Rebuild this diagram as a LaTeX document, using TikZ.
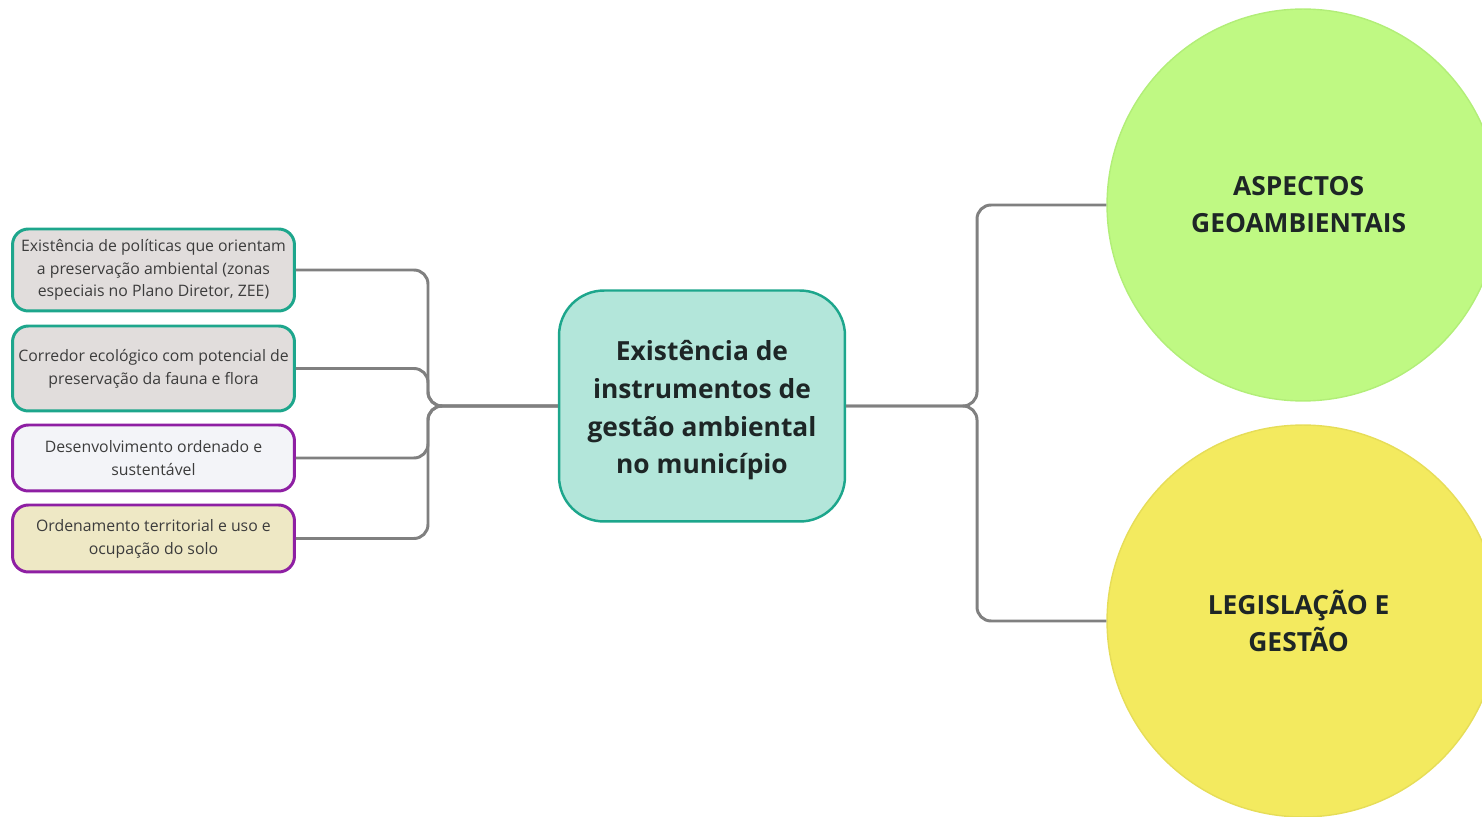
\documentclass[tikz,border=0pt]{standalone}
\usepackage{fontspec}
\setmainfont{Open Sans}
\usepackage{xcolor}
\usetikzlibrary{positioning}

\definecolor{tealline}{HTML}{1DA68C}
\definecolor{purpleline}{HTML}{8E1FA3}
\definecolor{grayfill}{HTML}{E1DDDC}
\definecolor{whitefill}{HTML}{F3F4F8}
\definecolor{creamfill}{HTML}{EEE8C5}
\definecolor{hubfill}{HTML}{B3E6DA}
\definecolor{geofill}{HTML}{BFF983}
\definecolor{geoline}{HTML}{B2EE78}
\definecolor{legfill}{HTML}{F3EA5F}
\definecolor{legline}{HTML}{E6DD58}
\definecolor{linkgray}{HTML}{808080}
\definecolor{textgray}{HTML}{3C3C3C}
\definecolor{textdark}{HTML}{1E2626}

\begin{document}
\begin{tikzpicture}[
    x=0.02cm, y=-0.02cm,
    item/.style={
        rectangle,
        rounded corners=9pt,
        draw,
        line width=1.7pt,
        minimum width=5.64cm,
        inner xsep=1pt,
        align=center,
        text=textgray,
        font=\fontsize{9}{13}\selectfont
    },
    hub/.style={
        rectangle,
        rounded corners=0.9cm,
        draw=tealline,
        fill=hubfill,
        line width=1.4pt,
        minimum width=5.72cm,
        minimum height=4.62cm,
        align=center,
        text=textdark,
        font=\fontsize{15}{21.5}\selectfont\bfseries
    },
    topic/.style={
        circle,
        line width=0.8pt,
        minimum size=7.84cm,
        align=center,
        text=textdark,
        font=\fontsize{15}{21}\selectfont\bfseries
    },
    link/.style={
        draw=linkgray,
        line width=1.7pt,
        rounded corners=8pt
    }
]
\clip (0,0) rectangle (1482,817);

% left column
\node[item, draw=tealline, fill=grayfill, minimum height=1.64cm] (politicas) at (153.5,270)
    {Existência de políticas que orientam\\a preservação ambiental (zonas\\especiais no Plano Diretor, ZEE)};
\node[item, draw=tealline, fill=grayfill, minimum height=1.7cm] (corredor) at (153.5,368.5)
    {Corredor ecológico com potencial de\\preservação da fauna e flora};
\node[item, draw=purpleline, fill=whitefill, minimum height=1.32cm] (desenv) at (153.5,458)
    {Desenvolvimento ordenado e\\sustentável};
\node[item, draw=purpleline, fill=creamfill, minimum height=1.34cm] (ordenamento) at (153.5,538.5)
    {Ordenamento territorial e uso e\\ocupação do solo};

% central node
\node[hub] (centro) at (702,406)
    {\rule{0pt}{16.5pt}Existência de\\instrumentos de\\gestão ambiental\\no município};

% right column
\node[topic, draw=geoline, fill=geofill] (aspectos) at (1303,205)
    {\hspace*{-5pt}ASPECTOS\\\hspace*{-5pt}GEOAMBIENTAIS};
\node[topic, draw=legline, fill=legfill] (legislacao) at (1303,621)
    {\hspace*{-5pt}LEGISLAÇÃO E\\\hspace*{-5pt}GESTÃO};

% junctions
\coordinate (jleft) at (428,406);
\coordinate (jright) at (977,406);

% connectors
\foreach \n in {politicas, corredor, desenv, ordenamento}
    \draw[link] (\n.east) -| (jleft) -- (centro.west);

\draw[link] (centro.east) -- (jright) |- (aspectos.west);
\draw[link] (centro.east) -- (jright) |- (legislacao.west);

\end{tikzpicture}
\end{document}
